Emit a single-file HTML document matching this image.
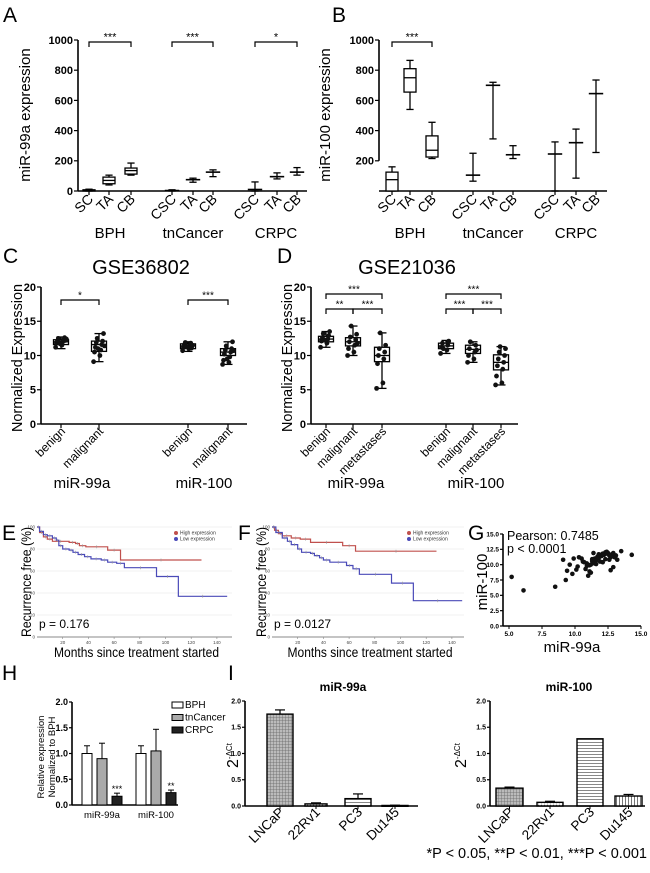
<!DOCTYPE html>
<html><head><meta charset="utf-8"><style>
html,body{margin:0;padding:0;background:#fff;}
svg{display:block;font-family:"Liberation Sans",Arial,sans-serif;}
</style></head><body>
<svg id="fig" width="650" height="873" viewBox="0 0 650 873" xmlns="http://www.w3.org/2000/svg">
<defs>
<pattern id="pGrid" width="3" height="3" patternUnits="userSpaceOnUse"><rect width="3" height="3" fill="#bbb"/><path d="M0 0H3M0 0V3" stroke="#666" stroke-width="0.8"/></pattern>
<pattern id="pDots" width="3" height="3" patternUnits="userSpaceOnUse"><rect width="3" height="3" fill="#fff"/><circle cx="1.5" cy="1.5" r="0.9" fill="#555"/></pattern>
<pattern id="pHor" width="4" height="3" patternUnits="userSpaceOnUse"><rect width="4" height="3" fill="#fff"/><path d="M0 1.5H4" stroke="#888" stroke-width="1"/></pattern>
<pattern id="pVer" width="3" height="4" patternUnits="userSpaceOnUse"><rect width="3" height="4" fill="#fff"/><path d="M1.5 0V4" stroke="#777" stroke-width="1"/></pattern>
</defs>
</svg>
<script>
// ---------------- DATA ----------------
const aCats = ["SC","TA","CB","CSC","TA","CB","CSC","TA","CB"];
const aStats = [[0,0,3,8,12],[40,48,70,92,105],[105,112,135,152,185],[0,0,3,6,8],[58,65,75,82,85],[95,100,125,135,140],[0,0,10,10,60],[80,85,95,110,120],[105,110,125,140,155]];
const aGroups = ["BPH","tnCancer","CRPC"];
const aTicks = [0,200,400,600,800,1000];
const aSig = ["***","***","*"];
const bCats = ["SC","TA","CB","CSC","TA","CB","CSC","TA","CB"];
const bStats = [[0,0,75,125,160],[540,655,750,810,865],[215,225,270,365,455],[65,65,105,105,250],[345,345,700,700,720],[215,215,240,240,300],[0,0,245,245,325],[85,85,320,320,410],[255,255,645,645,735]];
const bTicks = [200,400,600,800,1000];
const cCats = ["benign","malignant","benign","malignant"];
const cStats = [[11,11.6,12,12.3,12.7],[9.1,10.6,11.6,12.1,13.2],[10.6,11,11.4,11.7,12],[8.7,10,10.5,11,12]];
const cPoints = [[11.2,11.5,11.8,12,12.1,12.3,12.5,12.6,11.9,12.2,11.7,12.4],[9.1,10,10.5,10.8,11.2,11.6,11.9,12.1,12.5,13.2,11,11.4],[10.7,11,11.2,11.4,11.6,11.8,11.9,11.1,11.3,11.5],[8.7,9,9.3,9.8,10.2,10.5,10.8,11,11.4,12,9.5,10.7]];
const dCats = ["benign","malignant","metastases","benign","malignant","metastases"];
const dStats = [[11.2,12,12.4,12.8,13.5],[10,11.4,12,12.6,14.3],[5.2,9.1,10,11.2,13.3],[10.3,11,11.4,11.8,12.2],[9,10.3,10.9,11.5,12],[5.7,7.9,9,10.1,11.3]];
const dPoints = [[11.2,11.8,12.1,12.4,12.6,12.9,13.2,13.5,12.3],[10,10.5,11,11.5,12,12.3,12.7,13.1,14.3,11.8],[5.2,6,8.8,9.5,10,10.5,11,11.5,13.3],[10.3,10.8,11.2,11.5,11.8,12.1,11],[9,9.5,10,10.5,11,11.5,12,10.8],[5.7,6,7,8,8.5,9,9.5,10,10.5,11,11.3]];
const cdTicks = [0,5,10,15,20];
const eHighT = [0,2,5,8,12,25,30,33,38,55,65,128];
const eHighS = [100,95,91,89,87,86,85,83,82,79,70,70];
const eLowT = [0,2,5,8,12,15,17,20,25,28,32,37,42,50,55,62,68,93,110,148];
const eLowS = [100,96,93,92,90,88,83,80,79,77,75,73,71,70,68,67,63,55,37,37];
const fHighT = [0,2,5,8,15,22,30,55,65,128];
const fHighS = [100,97,94,92,90,89,86,83,78,78];
const fLowT = [0,3,8,12,15,20,23,30,33,37,40,45,58,63,68,93,110,148];
const fLowS = [100,95,90,87,84,80,77,76,74,72,70,68,65,62,57,49,33,33];
const kmTicksX = [20,40,60,80,100,120,140];
const kmTicksY = [0,20,40,60,80,100];
const gX = [5.2,6.1,8.5,9.1,9.3,9.4,9.6,9.8,9.9,10.1,10.3,10.5,10.8,11,11.1,11.2,14.3,13.5,12.7,12.9,13.2,10.6,10.9,11.3,11.5,11.7,11.9,12.1,12.3,12.5,12.6,12.8,13,11.4,11.6,11.8,12,12.2,12.4,11.2,11.5,11.9,12.3,12.7,13.1,11.1,11.6,12.1,12.6,10.9,11.3,11.8,12.4,12.9,10.2,10.7,11.4];
const gY = [8,5.8,6.4,10.8,7.5,9,10,8.5,11,9.2,11.2,11,9.3,8.2,8.9,8.7,11.6,12.2,9.1,9.6,10.8,10.5,10.2,10.6,11,11.3,11.6,11.8,12,11.9,11.5,11.7,11.2,10.3,10.7,11.1,11.4,11.6,11.8,10,10.2,10.5,10.9,11.2,11.5,9.9,10.1,10.4,10.8,9.8,10.9,11.7,12.1,11.9,9.7,10.4,11.9];
const gTicks = [0,2.5,5,7.5,10,12.5,15];
const hGroups = ["miR-99a","miR-100"];
const hSeries = ["BPH","tnCancer","CRPC"];
const hVals = [[1.0,0.9,0.17],[1.0,1.05,0.24]];
const hErr = [[0.15,0.3,0.06],[0.15,0.42,0.05]];
const hSig = [["","","***"],["","","**"]];
const hTicks = [0,0.5,1.0,1.5,2.0];
const iCats = ["LNCaP","22Rv1","PC3","Du145"];
const i99 = [1.75,0.04,0.14,0.01];
const i99Err = [0.08,0.02,0.09,0.005];
const i100 = [0.34,0.07,1.28,0.19];
const i100Err = [0.02,0.02,0,0.03];
const iTicks = [0,0.5,1.0,1.5,2.0];

// ---------------- HELPERS ----------------
const NS="http://www.w3.org/2000/svg";
const svg=document.getElementById('fig');
function mk(tag,attrs,parent){const e=document.createElementNS(NS,tag);for(const k in attrs)e.setAttribute(k,attrs[k]);(parent||svg).appendChild(e);return e;}
function txt(s,attrs,parent){const e=mk('text',attrs,parent);e.textContent=s;return e;}
function lin(x0,x1,d0,d1){return v=>x0+(v-d0)*(x1-x0)/(d1-d0);}
function grp(name){const g=mk('g',{});return g;}

function yAxis(g,x,y,ticks,fmt,fs,len){
  const ax=mk('line',{x1:x,x2:x,y1:y(ticks[ticks.length-1]),y2:y(ticks[0]),stroke:'#000','stroke-width':1.6},g);
  
  ticks.forEach(t=>{
    mk('line',{x1:x-len,x2:x,y1:y(t),y2:y(t),stroke:'#000','stroke-width':1.2},g);
    const l=txt(fmt(t),{x:x-len-1,y:y(t)+fs*0.35,'font-size':fs,'font-weight':'bold','text-anchor':'end'},g);
    
  });
}
function boxPlot(g,x,y,s,w,style){
  const [mn,q1,md,q3,mx]=s;
  mk('line',{x1:x,x2:x,y1:y(mx),y2:y(mn),stroke:'#000','stroke-width':1.3},g);
  mk('line',{x1:x-w*0.3,x2:x+w*0.3,y1:y(mx),y2:y(mx),stroke:'#000','stroke-width':1.3},g);
  mk('line',{x1:x-w*0.3,x2:x+w*0.3,y1:y(mn),y2:y(mn),stroke:'#000','stroke-width':1.3},g);
  if(style==='box'){
    const b=mk('rect',{x:x-w/2,y:y(q3),width:w,height:Math.max(1,y(q1)-y(q3)),fill:'#fff',stroke:'#000','stroke-width':1.3},g);
    
    mk('line',{x1:x-w/2,x2:x+w/2,y1:y(md),y2:y(md),stroke:'#000','stroke-width':1.3},g);
  } else {
    mk('line',{x1:x-w*0.6,x2:x+w*0.6,y1:y(md),y2:y(md),stroke:'#000','stroke-width':1.6},g);
  }
}
function sigBar(g,x1,x2,y,label,fs){
  mk('path',{d:`M${x1} ${y+5}V${y}H${x2}V${y+5}`,fill:'none',stroke:'#000','stroke-width':1.2},g);
  const t=txt(label,{x:(x1+x2)/2,y:y-1.5,'font-size':fs,'text-anchor':'middle'},g);
  
}
function rotLabel(g,s,x,y,fs,name){
  const t=txt(s,{x:x,y:y,'font-size':fs,'text-anchor':'end',transform:`rotate(-45 ${x} ${y})`},g);
  
  return t;
}
function letter(s,x,y){const t=txt(s,{x:x,y:y,'font-size':21});}

// ---------------- PANEL A & B ----------------
function panelAB(name,axX,axEnd,xs,cats,stats,ticks,ylab,ylx,boxN,groupsX,sigs){
  const g=grp(name);
  const y=lin(191,40,0,1000);
  yAxis(g,axX,y,ticks,t=>String(t),11,4);
  const xa=mk('line',{x1:axX,x2:axEnd,y1:191,y2:191,stroke:'#000','stroke-width':1.6},g);
  
  cats.forEach((c,i)=>{
    mk('line',{x1:xs[i],x2:xs[i],y1:191,y2:195,stroke:'#000','stroke-width':1.2},g);
    boxPlot(g,xs[i],y,stats[i],12,i<boxN?'box':'range');
    rotLabel(g,c,xs[i]+5,200,14,'category-label');
  });
  aGroups.forEach((gn,i)=>{const t=txt(gn,{x:groupsX[i],y:238,'font-size':15,'text-anchor':'middle'},g);});
  sigs.forEach((s,i)=>sigBar(g,xs[i*3],xs[i*3+2],42,s,11));
  const yl=txt(ylab,{x:ylx,y:115,'font-size':15,'text-anchor':'middle',transform:`rotate(-90 ${ylx} 115)`},g);
  
}
letter('A',3,22);letter('B',332,22);
panelAB('panel-a',78,307,[89,109,131,172,193,213,255,277,297],aCats,aStats,aTicks,'miR-99a expression',30,3,[110,193,276],aSig);
panelAB('panel-b',379,607,[392,410,432,473,493,513,555,576,596],bCats,bStats,bTicks,'miR-100 expression',330,3,[410,493,576],["***"]);

// ---------------- PANEL C & D ----------------
function panelCD(name,axX,axEnd,xs,cats,stats,pts,title,tx,mirX,sigs,ylx){
  const g=grp(name);
  const y=lin(424,287,0,20);
  yAxis(g,axX,y,cdTicks,t=>String(t),11,4);
  const xa=mk('line',{x1:axX,x2:axEnd,y1:424,y2:424,stroke:'#000','stroke-width':1.6},g);
  
  cats.forEach((c,i)=>{
    mk('line',{x1:xs[i],x2:xs[i],y1:424,y2:428,stroke:'#000','stroke-width':1.2},g);
    boxPlot(g,xs[i],y,stats[i],15,'box');
    pts[i].forEach((v,j)=>{
      const dx=((j*7)%13-6)*0.9;
      const p=mk('circle',{cx:xs[i]+dx,cy:y(v),r:2.4,fill:'#111'},g);
      
    });
    rotLabel(g,c,xs[i]+5,432,12,'category-label');
  });
  ["miR-99a","miR-100"].forEach((m,i)=>{const t=txt(m,{x:mirX[i],y:488,'font-size':15,'text-anchor':'middle'},g);});
  sigs.forEach(s=>sigBar(g,xs[s[0]],xs[s[1]],s[2],s[3],10));
  const tt=txt(title,{x:tx,y:274,'font-size':20,'text-anchor':'middle'},g);
  
  const yl=txt('Normalized Expression',{x:ylx,y:358,'font-size':15,'text-anchor':'middle',textLength:148,lengthAdjust:'spacingAndGlyphs',transform:`rotate(-90 ${ylx} 358)`},g);
  
}
letter('C',3,263);letter('D',277,263);
panelCD('panel-c',41,247,[61,99,188,228],cCats,cStats,cPoints,'GSE36802',141,[82,204],[[0,1,300,'*'],[2,3,300,'***']],22);
panelCD('panel-d',311,518,[326,353,382,446,473,501],dCats,dStats,dPoints,'GSE21036',407,[356,476],[[0,2,294,'***'],[0,1,309,'**'],[1,2,309,'***'],[3,5,294,'***'],[3,4,309,'***'],[4,5,309,'***']],292);

// ---------------- PANEL E & F ----------------
function km(name,x0,xEnd,hT,hS,lT,lS,pText,legX){
  const g=grp(name);
  const x=lin(x0,x0+1.285*140,0,140), y=lin(637,527,0,100);
  kmTicksY.forEach(t=>{
    mk('line',{x1:x0,x2:xEnd,y1:y(t),y2:y(t),stroke:t===0?'#888':'#eee','stroke-width':t===0?1:0.8},g);
    txt(String(t),{x:x0-2,y:y(t)+1.5,'font-size':4.5,fill:'#444','text-anchor':'end'},g);
  });
  kmTicksX.forEach(t=>{mk('line',{x1:x(t),x2:x(t),y1:637,y2:639,stroke:'#888','stroke-width':0.6},g);
    txt(String(t),{x:x(t),y:644,'font-size':4.5,fill:'#444','text-anchor':'middle'},g);});
  function step(T,S,col,nm){
    let d=`M${x(T[0])} ${y(S[0])}`;
    for(let i=1;i<T.length;i++){d+=`H${x(T[i])}V${y(S[i])}`;}
    const p=mk('path',{d:d,fill:'none',stroke:col,'stroke-width':1.2},g);
    
    for(let i=1;i<T.length;i++){const xm=(x(T[i-1])+x(T[i]))/2;mk('line',{x1:xm,x2:xm,y1:y(S[i-1])-1.5,y2:y(S[i-1])+1.5,stroke:'#999','stroke-width':0.6},g);}
  }
  step(hT,hS,'#c0504d','high-expression-curve');
  step(lT,lS,'#4a4ab8','low-expression-curve');
  [['High expression','#c0504d',533],['Low expression','#4a4ab8',539]].forEach(r=>{
    mk('circle',{cx:legX,cy:r[2],r:2,fill:r[1]},g);
    const t=txt(r[0],{x:legX+4,y:r[2]+1.7,'font-size':5,fill:'#333'},g);
    
  });
  const pt=txt(pText,{x:x0+2,y:628,'font-size':12},g);
  const xl=txt('Months since treatment started',{x:(x0+xEnd)/2+2,y:657,'font-size':14,'text-anchor':'middle',textLength:165,lengthAdjust:'spacingAndGlyphs'},g);
  
  const yx=x0-6;
  const yl=txt('Recurrence free (%)',{x:yx,y:582,'font-size':14,'text-anchor':'middle',textLength:110,lengthAdjust:'spacingAndGlyphs',transform:`rotate(-90 ${yx} 582)`},g);
  
}
letter('E',2,540);letter('F',238,540);
km('panel-e',37,232,eHighT,eHighS,eLowT,eLowS,'p = 0.176',176);
km('panel-f',272,464,fHighT,fHighS,fLowT,fLowS,'p = 0.0127',409);

// ---------------- PANEL G ----------------
(function(){
  const g=grp('panel-g');
  const x=lin(509,641,5,15), y=lin(626,534,0,15);
  yAxis(g,503,y,gTicks,t=>t.toFixed(1),6.5,3);
  const xa=mk('line',{x1:503,x2:641,y1:626,y2:626,stroke:'#000','stroke-width':1.4},g);
  
  [5,7.5,10,12.5,15].forEach(t=>{mk('line',{x1:x(t),x2:x(t),y1:626,y2:629,stroke:'#000'},g);
    const l=txt(t.toFixed(1),{x:x(t),y:636,'font-size':6.5,'font-weight':'bold','text-anchor':'middle'},g);});
  gX.forEach((v,i)=>{const p=mk('circle',{cx:x(v),cy:y(gY[i]),r:2.3,fill:'#111'},g);});
  const t1=txt('Pearson: 0.7485',{x:507,y:540,'font-size':12.5},g);
  const t2=txt('p < 0.0001',{x:507,y:553,'font-size':12.5},g);
  const xl=txt('miR-99a',{x:572,y:652,'font-size':15,'text-anchor':'middle'},g);
  const yl=txt('miR-100',{x:487,y:582,'font-size':15,'text-anchor':'middle',transform:'rotate(-90 487 582)'},g);
})();
letter('G',468,540);

// ---------------- PANEL H ----------------
letter('H',2,680);letter('I',228,680);
(function(){
  const g=grp('panel-h');
  const y=lin(805,702,0,2);
  yAxis(g,72,y,hTicks,t=>t.toFixed(1),9,3);
  const xa=mk('line',{x1:72,x2:178,y1:805,y2:805,stroke:'#000','stroke-width':1.4},g);
  
  const fills=['#fff','#aaa','#222'];
  const gx=[82,136];
  hGroups.forEach((gn,gi)=>{
    hVals[gi].forEach((v,si)=>{
      const bx=gx[gi]+si*15, w=10;
      const top=y(v+hErr[gi][si]);
      mk('line',{x1:bx+w/2,x2:bx+w/2,y1:y(v),y2:top,stroke:'#000'},g);
      mk('line',{x1:bx+2,x2:bx+w-2,y1:top,y2:top,stroke:'#000'},g);
      const b=mk('rect',{x:bx,y:y(v),width:w,height:805-y(v),fill:fills[si],stroke:'#000','stroke-width':1},g);
      
      if(hSig[gi][si]) txt(hSig[gi][si],{x:bx+w/2,y:top-1,'font-size':9,'text-anchor':'middle'},g);
    });
    const l=txt(gn,{x:gx[gi]+20,y:818,'font-size':9.5,'text-anchor':'middle'},g);
  });
  hSeries.forEach((s,i)=>{
    const yy=702+i*12.5;
    mk('rect',{x:172,y:yy,width:11,height:6,fill:fills[i],stroke:'#000'},g);
    const t=txt(s,{x:185,y:yy+6,'font-size':10},g);
  });
  const y1=txt('Relative expression',{x:44,y:757,'font-size':9.5,'text-anchor':'middle',transform:'rotate(-90 44 757)'},g);
  
  const y2=txt('Normalized to BPH',{x:55,y:757,'font-size':9.5,'text-anchor':'middle',transform:'rotate(-90 55 757)'},g);
  
})();

// ---------------- PANEL I ----------------
function panelI(name,axX,axEnd,bx,bw,vals,errs,title,tx,ylx){
  const g=grp(name);
  const y=lin(806,701,0,2);
  yAxis(g,axX,y,iTicks,t=>t.toFixed(1),7,3);
  const xa=mk('line',{x1:axX,x2:axEnd,y1:806,y2:806,stroke:'#000','stroke-width':1.4},g);
  
  const pats=['url(#pGrid)','url(#pDots)','url(#pHor)','url(#pVer)'];
  iCats.forEach((c,i)=>{
    const v=vals[i], cx=bx[i]+bw[i]/2;
    if(errs[i]>0){const top=y(v+errs[i]);mk('line',{x1:cx,x2:cx,y1:y(v),y2:top,stroke:'#000','stroke-width':1.2},g);mk('line',{x1:cx-5,x2:cx+5,y1:top,y2:top,stroke:'#000','stroke-width':1.2},g);}
    const b=mk('rect',{x:bx[i],y:y(v),width:bw[i],height:Math.max(0.8,806-y(v)),fill:pats[i],stroke:'#000','stroke-width':1.4},g);
    
    mk('line',{x1:cx,x2:cx,y1:806,y2:809,stroke:'#000'},g);
    rotLabel(g,c,cx+5,813,13.5,'x-tick-label');
  });
  const t=txt(title,{x:tx,y:691,'font-size':12,'font-weight':'bold','text-anchor':'middle'},g);
  
  const yl=txt('2',{x:ylx,y:768,'font-size':16,transform:`rotate(-90 ${ylx} 768)`},g);
  const ts=mk('tspan',{dy:-6,'font-size':8},yl);ts.textContent='-ΔCt';
  
}
panelI('panel-i-mir-99a',245,418,[267,305,345,382],[26,22,26,26],i99,i99Err,'miR-99a',343,238);
panelI('panel-i-mir-100',490,645,[496,537,577,615],[27,26,26,27],i100,i100Err,'miR-100',569,466);
const fn=txt('*P < 0.05, **P < 0.01, ***P < 0.001',{x:647,y:858,'font-size':14.5,'text-anchor':'end'});

</script>
</body></html>
